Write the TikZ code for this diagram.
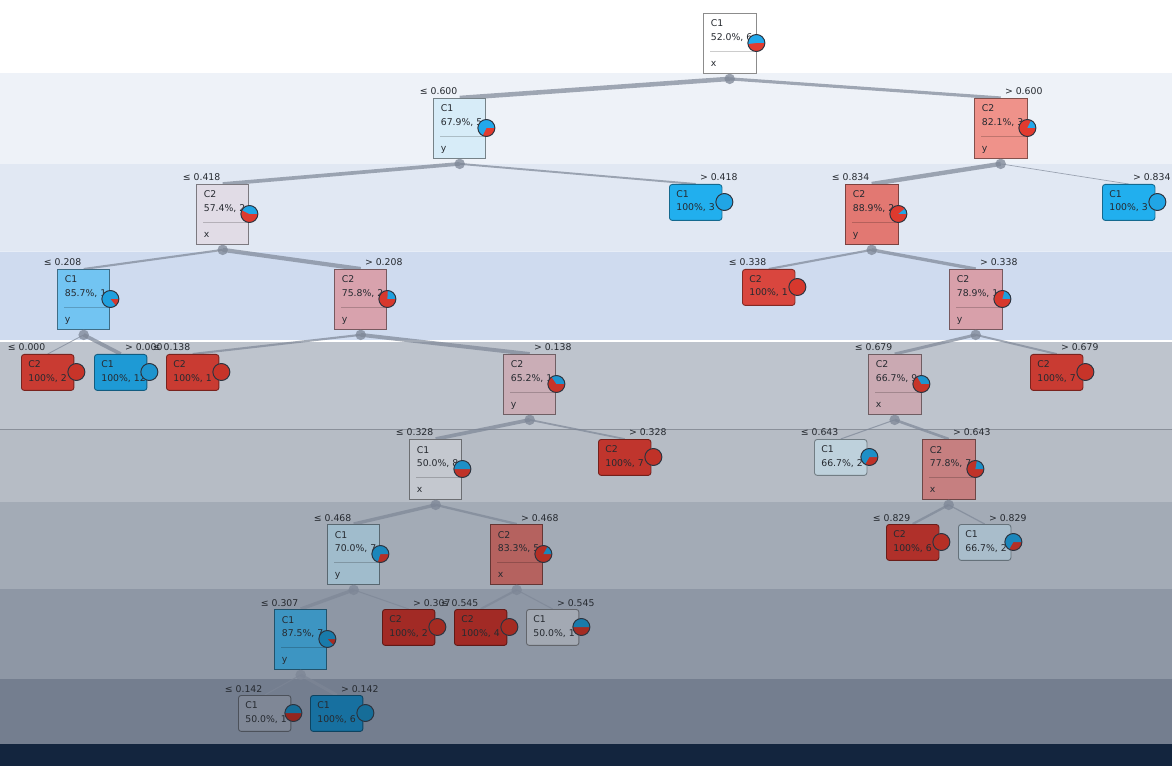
\documentclass[tikz,border=0pt]{standalone}
\usepackage{fontspec}
\setmainfont{DejaVu Sans}
\usetikzlibrary{calc}

\pgfdeclarelayer{bands}
\pgfdeclarelayer{edges}
\pgfsetlayers{bands,edges,main}

\definecolor{cone}{HTML}{22A8EA}
\definecolor{ctwo}{HTML}{E23B2F}
\definecolor{edgegray}{HTML}{7D8696}
\definecolor{txtgray}{HTML}{262A30}
\definecolor{pieedge}{HTML}{2B3440}
\definecolor{bandA}{HTML}{EEF2F8}
\definecolor{bandB}{HTML}{E1E8F3}
\definecolor{bandC}{HTML}{CFDBEF}
\definecolor{bandD}{HTML}{BEC4CD}
\definecolor{bandE}{HTML}{B6BCC5}
\definecolor{bandF}{HTML}{A3ABB6}
\definecolor{bandG}{HTML}{8E97A5}
\definecolor{bandH}{HTML}{747E8F}
\definecolor{navybar}{HTML}{13253E}
\definecolor{bandline}{HTML}{8A909A}

\tikzset{
  box/.style={line width=0.5pt, minimum width=1.05cm, inner sep=0pt, anchor=north west},
  splitbox/.style={box, minimum height=1.2cm},
  leafbox/.style={box, minimum height=0.72cm, rounded corners=1.6pt},
  txt/.style={anchor=base west, inner sep=0pt, text=txtgray, font=\fontsize{5.3}{6.5}\selectfont},
  cond/.style={inner sep=0pt, text=txtgray, font=\fontsize{5.3}{6.5}\selectfont},
  splitpt/.style={circle, fill=edgegray, fill opacity=0.75, minimum size=0.21cm, inner sep=0pt},
  edge/.style={draw=edgegray, draw opacity=0.7},
  pieline/.style={draw=pieedge, line width=0.55pt}
}

% pie at #1, share of C1 in degrees #2
\newcommand\piechart[2]{%
  \fill[ctwo!\pieshade!black] #1 circle[radius=0.17cm];
  \ifnum#2>0\relax
    \fill[cone!\pieshade!black] #1 -- ++(0:0.17cm) arc[start angle=0, end angle=#2, radius=0.17cm] -- cycle;
  \fi
  \draw[pieline] #1 circle[radius=0.17cm];
}
% name, left, top, fill, class, stat, attribute, C1 angle
\newcommand\splitnode[8]{%
  \definecolor{#1fill}{HTML}{#4}
  \node[splitbox, fill=#1fill, draw=#1fill!55!black] (#1) at (#2,#3) {};
  \draw[draw=#1fill!80!black, line width=0.4pt] ($(#1.north west)+(7,38.5)$) -- ($(#1.north east)+(-1,38.5)$);
  \node[txt] at ($(#1.north west)+(7.5,14)$) {#5};
  \node[txt] at ($(#1.north west)+(7.5,27.5)$) {#6};
  \node[txt] at ($(#1.north west)+(7.5,53.5)$) {#7};
  \piechart{($(#1.north east)+(0,30)$)}{#8}
  \node[splitpt] (#1p) at ($(#1.south)+(0,5)$) {};
}
% name, left, top, fill, class, stat, C1 angle
\newcommand\leafnode[7]{%
  \definecolor{#1fill}{HTML}{#4}
  \node[leafbox, fill=#1fill, draw=#1fill!60!black] (#1) at (#2,#3) {};
  \node[txt] at ($(#1.north west)+(7,13.5)$) {#5};
  \node[txt] at ($(#1.north west)+(7,27)$) {#6};
  \piechart{($(#1.north east)+(2,18)$)}{#7}
}
\newcommand\condle[2]{\node[cond, anchor=base east] at ($(#1.north)+(-2,-3)$) {≤ #2};}
\newcommand\condgt[2]{\node[cond, anchor=base west] at ($(#1.north)+(4,-3)$) {> #2};}

\begin{document}
\begin{tikzpicture}[x=0.02cm, y=-0.02cm]
  \useasboundingbox (0,0) rectangle (1172,766);
  \begin{pgfonlayer}{bands}
    \fill[white] (0,0) rectangle (1172,73);
    \fill[bandA] (0,73) rectangle (1172,164);
    \fill[bandB] (0,164) rectangle (1172,251);
    \fill[bandC] (0,251) rectangle (1172,341);
    \fill[bandD] (0,341) rectangle (1172,429);
    \fill[bandE] (0,429) rectangle (1172,502);
    \fill[bandF] (0,502) rectangle (1172,589);
    \fill[bandG] (0,589) rectangle (1172,679);
    \fill[bandH] (0,679) rectangle (1172,744);
    \fill[navybar] (0,744) rectangle (1172,766);
    \draw[white, line width=0.5pt, opacity=0.5] (0,251) -- (1172,251);
    \draw[white, line width=0.6pt] (0,341) -- (1172,341);
    \draw[bandline, line width=0.5pt] (0,429) -- (1172,429);
  \end{pgfonlayer}

  % depth 0
  \def\pieshade{100}
  \splitnode{n0}{703}{13}{FFFFFF}{C1}{52.0\%, 6}{x}{187}
  % depth 1
  \splitnode{n1}{433}{98}{D7ECF8}{C1}{67.9\%, 5}{y}{244}
  \splitnode{n2}{974}{98}{EF928A}{C2}{82.1\%, 3}{y}{64}
  \condle{n1}{0.600} \condgt{n2}{0.600}
  % depth 2
  \def\pieshade{98}
  \splitnode{n3}{196}{184}{E1DCE6}{C2}{57.4\%, 2}{x}{153}
  \leafnode{l4}{669}{184}{21AFEE}{C1}{100\%, 3}{360}
  \splitnode{n5}{845}{184}{E27872}{C2}{88.9\%, 2}{y}{40}
  \leafnode{l6}{1102}{184}{21AFEE}{C1}{100\%, 3}{360}
  \condle{n3}{0.418} \condgt{l4}{0.418}
  \condle{n5}{0.834} \condgt{l6}{0.834}
  % depth 3
  \def\pieshade{95}
  \splitnode{n7}{57}{269}{72C4F2}{C1}{85.7\%, 1}{y}{309}
  \splitnode{n8}{334}{269}{D8A2AD}{C2}{75.8\%, 2}{y}{87}
  \leafnode{l9}{742}{269}{D9463E}{C2}{100\%, 1}{0}
  \splitnode{n10}{949}{269}{D8A0AA}{C2}{78.9\%, 1}{y}{76}
  \condle{n7}{0.208} \condgt{n8}{0.208}
  \condle{l9}{0.338} \condgt{n10}{0.338}
  % depth 4
  \def\pieshade{88}
  \leafnode{l11}{21}{354}{C93B32}{C2}{100\%, 2}{0}
  \leafnode{l12}{94}{354}{1E9AD5}{C1}{100\%, 12}{360}
  \leafnode{l13}{166}{354}{C93B32}{C2}{100\%, 1}{0}
  \splitnode{n14}{503}{354}{CAADB6}{C2}{65.2\%, 1}{y}{125}
  \splitnode{n15}{868}{354}{CAA9B2}{C2}{66.7\%, 9}{x}{120}
  \leafnode{l16}{1030}{354}{C93B32}{C2}{100\%, 7}{0}
  \condle{l11}{0.000} \condgt{l12}{0.000}
  \condle{l13}{0.138} \condgt{n14}{0.138}
  \condle{n15}{0.679} \condgt{l16}{0.679}
  % depth 5
  \def\pieshade{85}
  \splitnode{n17}{409}{439}{C4C8CF}{C1}{50.0\%, 8}{x}{180}
  \leafnode{l18}{598}{439}{C0352D}{C2}{100\%, 7}{0}
  \leafnode{l19}{814}{439}{BED1DC}{C1}{66.7\%, 2}{240}
  \splitnode{n20}{922}{439}{C67F80}{C2}{77.8\%, 7}{x}{80}
  \condle{n17}{0.328} \condgt{l18}{0.328}
  \condle{l19}{0.643} \condgt{n20}{0.643}
  % depth 6
  \def\pieshade{80}
  \splitnode{n21}{327}{524}{A0BCCC}{C1}{70.0\%, 7}{y}{252}
  \splitnode{n22}{490}{524}{B5625F}{C2}{83.3\%, 5}{x}{60}
  \leafnode{l23}{886}{524}{B0302A}{C2}{100\%, 6}{0}
  \leafnode{l24}{958}{524}{A9BDCB}{C1}{66.7\%, 2}{240}
  \condle{n21}{0.468} \condgt{n22}{0.468}
  \condle{l23}{0.829} \condgt{l24}{0.829}
  % depth 7
  \def\pieshade{73}
  \splitnode{n25}{274}{609}{3D95C2}{C1}{87.5\%, 7}{y}{315}
  \leafnode{l26}{382}{609}{A22A25}{C2}{100\%, 2}{0}
  \leafnode{l27}{454}{609}{A22A25}{C2}{100\%, 4}{0}
  \leafnode{l28}{526}{609}{A3A9B3}{C1}{50.0\%, 1}{180}
  \condle{n25}{0.307} \condgt{l26}{0.307}
  \condle{l27}{0.545} \condgt{l28}{0.545}
  % depth 8
  \def\pieshade{65}
  \leafnode{l29}{238}{695}{7F8796}{C1}{50.0\%, 1}{180}
  \leafnode{l30}{310}{695}{1770A0}{C1}{100\%, 6}{360}
  \condle{l29}{0.142} \condgt{l30}{0.142}

  \begin{pgfonlayer}{edges}
    \draw[edge, line width=2.6pt] (n0p.center) -- (n1.north);
    \draw[edge, line width=1.8pt] (n0p.center) -- (n2.north);
    \draw[edge, line width=2.1pt] (n1p.center) -- (n3.north);
    \draw[edge, line width=1.1pt] (n1p.center) -- (l4.north);
    \draw[edge, line width=2.5pt] (n2p.center) -- (n5.north);
    \draw[edge, line width=0.4pt] (n2p.center) -- (l6.north);
    \draw[edge, line width=1.2pt] (n3p.center) -- (n7.north);
    \draw[edge, line width=2.4pt] (n3p.center) -- (n8.north);
    \draw[edge, line width=1.2pt] (n5p.center) -- (l9.north);
    \draw[edge, line width=1.9pt] (n5p.center) -- (n10.north);
    \draw[edge, line width=0.5pt] (n7p.center) -- (l11.north);
    \draw[edge, line width=2.1pt] (n7p.center) -- (l12.north);
    \draw[edge, line width=1.2pt] (n8p.center) -- (l13.north);
    \draw[edge, line width=2.2pt] (n8p.center) -- (n14.north);
    \draw[edge, line width=1.7pt] (n10p.center) -- (n15.north);
    \draw[edge, line width=1.1pt] (n10p.center) -- (l16.north);
    \draw[edge, line width=2.1pt] (n14p.center) -- (n17.north);
    \draw[edge, line width=1.0pt] (n14p.center) -- (l18.north);
    \draw[edge, line width=0.6pt] (n15p.center) -- (l19.north);
    \draw[edge, line width=1.5pt] (n15p.center) -- (n20.north);
    \draw[edge, line width=1.9pt] (n17p.center) -- (n21.north);
    \draw[edge, line width=1.3pt] (n17p.center) -- (n22.north);
    \draw[edge, line width=1.3pt] (n20p.center) -- (l23.north);
    \draw[edge, line width=0.7pt] (n20p.center) -- (l24.north);
    \draw[edge, line width=1.9pt] (n21p.center) -- (n25.north);
    \draw[edge, line width=0.6pt] (n21p.center) -- (l26.north);
    \draw[edge, line width=1.2pt] (n22p.center) -- (l27.north);
    \draw[edge, line width=0.6pt] (n22p.center) -- (l28.north);
    \draw[edge, line width=0.6pt] (n25p.center) -- (l29.north);
    \draw[edge, line width=1.7pt] (n25p.center) -- (l30.north);
  \end{pgfonlayer}
\end{tikzpicture}
\end{document}
